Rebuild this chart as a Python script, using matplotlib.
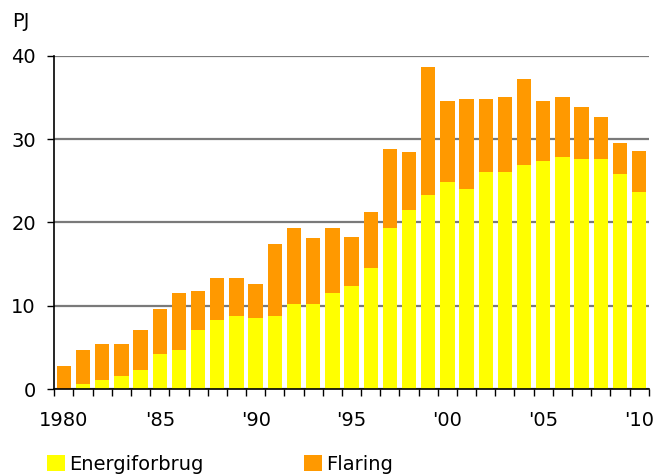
import matplotlib.pyplot as plt
import numpy as np

# data (PJ)
years = list(range(1980, 2011))
total = [2.8, 4.7, 5.4, 5.4, 7.1, 9.6, 11.5, 11.75, 13.3, 13.3,
         12.6, 17.4, 19.3, 18.1, 19.3, 18.3, 21.3, 28.85, 28.4, 38.65,
         34.6, 34.8, 34.8, 35.05, 37.2, 34.6, 35.05, 33.85, 32.7, 29.55, 28.6]
energi = [0.0, 0.65, 1.1, 1.6, 2.3, 4.2, 4.7, 7.1, 8.3, 8.75,
          8.5, 8.75, 10.2, 10.2, 11.6, 12.35, 14.5, 19.3, 21.45, 23.35,
          24.8, 24.05, 26.0, 26.0, 26.9, 27.4, 27.9, 27.65, 27.65, 25.85, 23.7]
flaring = list(np.array(total) - np.array(energi))

tick_years = [1980, 1985, 1990, 1995, 2000, 2005, 2010]
tick_labels = ['1980', "'85", "'90", "'95", "'00", "'05", "'10"]

yellow = '#FFFF00'
orange = '#FF9900'

plt.rcParams['font.family'] = 'DejaVu Sans'
fig = plt.figure(figsize=(6.56, 4.74), dpi=100)
ax = fig.add_axes([0.0828, 0.1787, 0.9061, 0.7038])

b1 = ax.bar(years, energi, width=0.75, color=yellow, label='Energiforbrug')
b2 = ax.bar(years, flaring, width=0.75, bottom=energi, color=orange, label='Flaring')

ax.set_xlim(1979.5, 2010.5)
ax.set_ylim(0, 40)
ax.set_yticks([0, 10, 20, 30, 40])
ax.set_xticks(tick_years)
ax.set_xticklabels(tick_labels)
ax.set_xticks(np.arange(1979.5, 2011, 1), minor=True)

ax.tick_params(axis='x', which='major', length=0, pad=15.5, labelsize=14)
ax.tick_params(axis='x', which='minor', length=4.8, width=1, color='black')
ax.tick_params(axis='y', length=4.8, width=1, pad=8.5, labelsize=14)

ax.grid(axis='y', color='#7a7a7a', linewidth=1.6)
ax.set_axisbelow(True)
for s in ['top', 'right']:
    ax.spines[s].set_visible(False)
ax.spines['left'].set_linewidth(1.2)
ax.spines['bottom'].set_linewidth(1.2)

fig.text(11.7 / 656, 1 - 26.7 / 474, 'PJ', fontsize=14, va='baseline', ha='left')

fig.legend(handles=[b1, b2], loc='center left', bbox_to_anchor=(47.3 / 656, 1 - 464 / 474),
           ncol=2, frameon=False, fontsize=14, handlelength=0.91, handleheight=0.9,
           handletextpad=0.2, columnspacing=5.2, borderpad=0, borderaxespad=0)

fig.savefig('out.png', dpi=100)
